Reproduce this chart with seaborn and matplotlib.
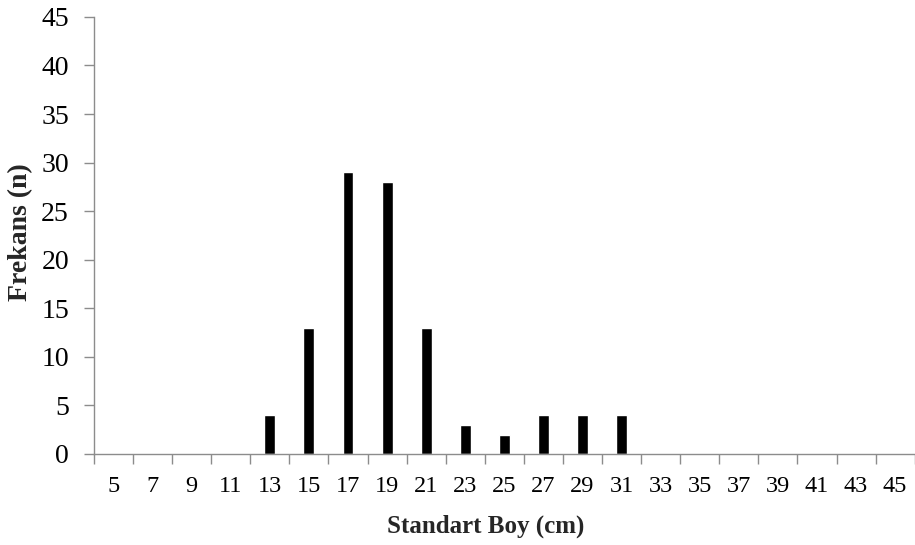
import matplotlib
matplotlib.use("Agg")
import matplotlib.pyplot as plt
import seaborn as sns
import pandas as pd
import numpy as np
from matplotlib.ticker import FixedLocator

categories = [str(v) for v in range(5, 47, 2)]
counts = [0, 0, 0, 0, 4, 13, 29, 28, 13, 3, 2, 4, 4, 4, 0, 0, 0, 0, 0, 0, 0]
y_ticks = [0, 5, 10, 15, 20, 25, 30, 35, 40, 45]

sns.set_theme(style="white")
plt.rcParams['font.family'] = ['Liberation Serif', 'DejaVu Serif']

df = pd.DataFrame({"cat": categories, "n": counts})

fig = plt.figure(figsize=(9.15, 5.45), dpi=100)
ax = fig.add_axes([0.1027, 0.167, 0.897, 0.802])
sns.barplot(data=df, x="cat", y="n", order=categories, color="black",
            width=0.28, ax=ax, saturation=1)

ax.set_ylim(0, 45)
ax.set_yticks(y_ticks)
ax.set_xlim(-0.5, len(categories) - 0.5)
ax.xaxis.set_minor_locator(FixedLocator(np.arange(-0.5, len(categories), 1.0)))
ax.tick_params(axis="x", which="major", length=0, pad=16, labelsize=17.5, colors="black")
ax.tick_params(axis="x", which="minor", length=7, width=1, color="#8c8c8c", direction="out", bottom=True)
ax.tick_params(axis="y", which="major", length=7, width=1, color="#8c8c8c", direction="out", left=True, labelsize=20, pad=11)
for lbl in ax.get_xticklabels() + ax.get_yticklabels():
    lbl.set_color("black")

for s in ["top", "right"]:
    ax.spines[s].set_visible(False)
for s in ["left", "bottom"]:
    ax.spines[s].set_color("#8c8c8c")
    ax.spines[s].set_linewidth(1)

ax.set_xlabel("Standart Boy (cm)", fontsize=18, fontweight="bold")
ax.set_ylabel("Frekans (n)", fontsize=20, fontweight="bold")
ax.xaxis.label.set_va("center")
ax.yaxis.label.set_va("center")
ax.xaxis.set_label_coords((486 - 94) / 821, (454 - 526) / 437)
ax.yaxis.set_label_coords((21 - 94) / 821, (454 - 232) / 437)

fig.savefig("out.png", dpi=100)
